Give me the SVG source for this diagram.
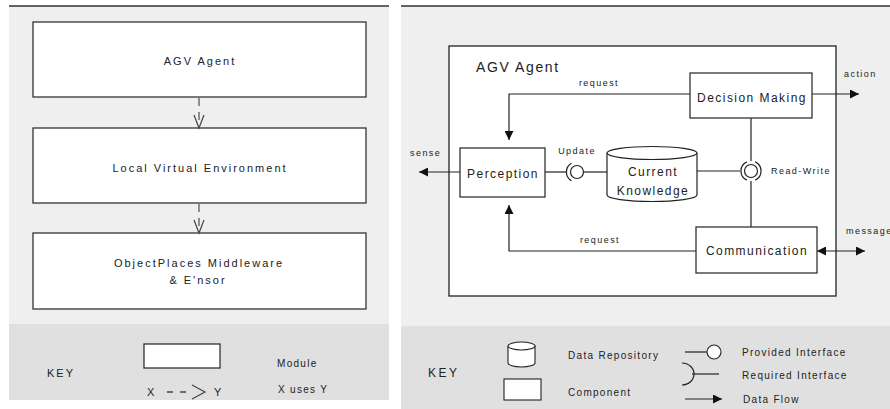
<svg xmlns="http://www.w3.org/2000/svg" width="890" height="409" viewBox="0 0 890 409">
<defs>
<style>
.t{font-family:"Liberation Sans",Arial,sans-serif;fill:#222}
.lbl{font-size:11px;letter-spacing:2px}
.cmp{font-size:12px;letter-spacing:1.45px}
.sm{font-size:9px;letter-spacing:1.45px}
.key{font-size:10px;letter-spacing:1.3px}
.box{fill:#fff;stroke:#333;stroke-width:1.3}
.ln{fill:none;stroke:#222;stroke-width:1.2}
.dash{fill:none;stroke:#666;stroke-width:1.4;stroke-dasharray:8 6}
.vee{fill:none;stroke:#444;stroke-width:1.2}
</style>
<marker id="ah" markerUnits="userSpaceOnUse" markerWidth="10" markerHeight="9" refX="9" refY="4.5" orient="auto-start-reverse">
<path d="M0,0 L9,4.5 L0,9 z" fill="#111"/>
</marker>
</defs>

<!-- panels -->
<g id="left-panel">
<rect x="9" y="6" width="380" height="318" fill="#efefef"/>
<rect x="9" y="324" width="380" height="76" fill="#e0e0e0"/>
<line x1="9" y1="6" x2="389" y2="6" stroke="#333" stroke-width="1.6"/>
</g>
<g id="right-panel">
<rect x="401" y="6" width="489" height="320" fill="#efefef"/>
<rect x="401" y="326" width="489" height="83" fill="#e0e0e0"/>
<line x1="401" y1="6" x2="890" y2="6" stroke="#333" stroke-width="1.6"/>
</g>

<!-- left: modules -->
<g id="mod-agv">
<rect class="box" x="33" y="22" width="333" height="75"/>
<text class="t lbl" x="200" y="65" text-anchor="middle">AGV Agent</text>
</g>
<g id="mod-lve">
<rect class="box" x="33" y="128" width="333" height="75"/>
<text class="t lbl" x="200" y="172" text-anchor="middle">Local Virtual Environment</text>
</g>
<g id="mod-op">
<rect class="box" x="33" y="233" width="333" height="76"/>
<text class="t lbl" x="199" y="267" text-anchor="middle">ObjectPlaces Middleware</text>
<text class="t lbl" x="198" y="284" text-anchor="middle">&amp; E'nsor</text>
</g>
<g id="left-connectors">
<line class="dash" x1="199" y1="98" x2="199" y2="127"/>
<path class="vee" d="M194,115 L199,128 L204,115"/>
<line class="dash" x1="199" y1="204" x2="199" y2="232"/>
<path class="vee" d="M194,220 L199,233 L204,220"/>
</g>

<!-- left key -->
<g id="left-key">
<text class="t" x="47" y="377" font-size="11" letter-spacing="2">KEY</text>
<rect class="box" x="144" y="344" width="76" height="24"/>
<text class="t key" x="277" y="367" letter-spacing="1.6">Module</text>
<text class="t" x="147" y="396" font-size="11">X</text>
<line x1="167" y1="392" x2="188" y2="392" stroke="#444" stroke-width="1.4" stroke-dasharray="6 7"/>
<path class="vee" d="M192,385 L205,392 L192,399"/>
<text class="t" x="214" y="396" font-size="11">Y</text>
<text class="t key" x="278" y="393" letter-spacing="1.4">X uses Y</text>
</g>

<!-- right: AGV Agent container -->
<g id="agv-agent">
<rect x="449" y="46" width="387" height="250" fill="#fff" stroke="#222" stroke-width="1.3"/>
<text class="t" x="476" y="72" font-size="14" letter-spacing="1.6">AGV Agent</text>
</g>

<g id="connectors">
<!-- request from Decision Making -->
<polyline class="ln" points="690,94 509,94 509,140" marker-end="url(#ah)"/>
<text class="t sm" x="599" y="86" text-anchor="middle">request</text>
<!-- request from Communication -->
<polyline class="ln" points="696,251 509,251 509,205" marker-end="url(#ah)"/>
<text class="t sm" x="600" y="243" text-anchor="middle">request</text>
<!-- action -->
<line class="ln" x1="812" y1="94" x2="859" y2="94" marker-end="url(#ah)"/>
<text class="t sm" x="844" y="77">action</text>
<!-- message -->
<line class="ln" x1="817" y1="251" x2="865" y2="251" marker-start="url(#ah)" marker-end="url(#ah)"/>
<text class="t sm" x="846" y="234">message</text>
<!-- sense -->
<line class="ln" x1="460" y1="172" x2="419" y2="172" marker-end="url(#ah)"/>
<text class="t sm" x="410" y="156">sense</text>
<!-- Update interface -->
<line class="ln" x1="545" y1="172" x2="566" y2="172"/>
<path class="ln" d="M571.5,163.3 A10,10 0 0 0 571.5,180.7"/>
<circle cx="577" cy="172" r="6.5" fill="#fff" stroke="#222" stroke-width="1.2"/>
<line class="ln" x1="583.5" y1="172" x2="607" y2="172"/>
<text class="t sm" x="577" y="154" text-anchor="middle">Update</text>
<!-- Read-Write interface -->
<line class="ln" x1="697" y1="171" x2="740" y2="171"/>
<line class="ln" x1="751" y1="118" x2="751" y2="161"/>
<line class="ln" x1="751" y1="181" x2="751" y2="227"/>
<path class="ln" d="M746.8,161.9 A10,10 0 0 0 746.8,180.1"/>
<path class="ln" d="M755.2,161.9 A10,10 0 0 1 755.2,180.1"/>
<circle cx="751" cy="171" r="6.5" fill="#fff" stroke="#222" stroke-width="1.2"/>
<text class="t sm" x="771" y="174">Read-Write</text>
</g>

<g id="decision-making">
<rect class="box" x="690" y="73" width="122" height="45"/>
<text class="t cmp" x="752" y="102" text-anchor="middle">Decision Making</text>
</g>
<g id="perception">
<rect class="box" x="460" y="148" width="85" height="49"/>
<text class="t cmp" x="503" y="178" text-anchor="middle">Perception</text>
</g>
<g id="communication">
<rect class="box" x="696" y="227" width="121" height="46"/>
<text class="t cmp" x="757" y="255" text-anchor="middle">Communication</text>
</g>
<g id="current-knowledge">
<path d="M607,153 L607,195 A45,6.5 0 0 0 697,195 L697,153" fill="#fff" stroke="#222" stroke-width="1.2"/>
<ellipse cx="652" cy="153" rx="45" ry="6.5" fill="#fff" stroke="#222" stroke-width="1.2"/>
<text class="t cmp" x="653" y="176" text-anchor="middle">Current</text>
<text class="t cmp" x="653" y="195" text-anchor="middle">Knowledge</text>
</g>

<!-- right key -->
<g id="right-key">
<text class="t" x="428" y="377" font-size="12" letter-spacing="2.5">KEY</text>
<path d="M508,346 L508,363 A13.5,4 0 0 0 535,363 L535,346" fill="#fff" stroke="#222" stroke-width="1.1"/>
<ellipse cx="521.5" cy="346" rx="13.5" ry="4" fill="#fff" stroke="#222" stroke-width="1.1"/>
<text class="t key" x="568" y="359">Data Repository</text>
<rect x="504" y="379" width="37" height="21" fill="#fff" stroke="#222" stroke-width="1.1"/>
<text class="t key" x="568" y="396">Component</text>
<line class="ln" x1="685" y1="352" x2="707" y2="352"/>
<circle cx="714" cy="352" r="7" fill="#fff" stroke="#222" stroke-width="1.1"/>
<text class="t key" x="742" y="356" letter-spacing="1.2">Provided Interface</text>
<path class="ln" d="M682,363 A12,11 0 0 1 682,385"/>
<line class="ln" x1="692" y1="374" x2="719" y2="374"/>
<text class="t key" x="742" y="379" letter-spacing="1.2">Required Interface</text>
<line class="ln" x1="685" y1="399" x2="722" y2="399" marker-end="url(#ah)"/>
<text class="t key" x="743" y="403">Data Flow</text>
</g>
</svg>
